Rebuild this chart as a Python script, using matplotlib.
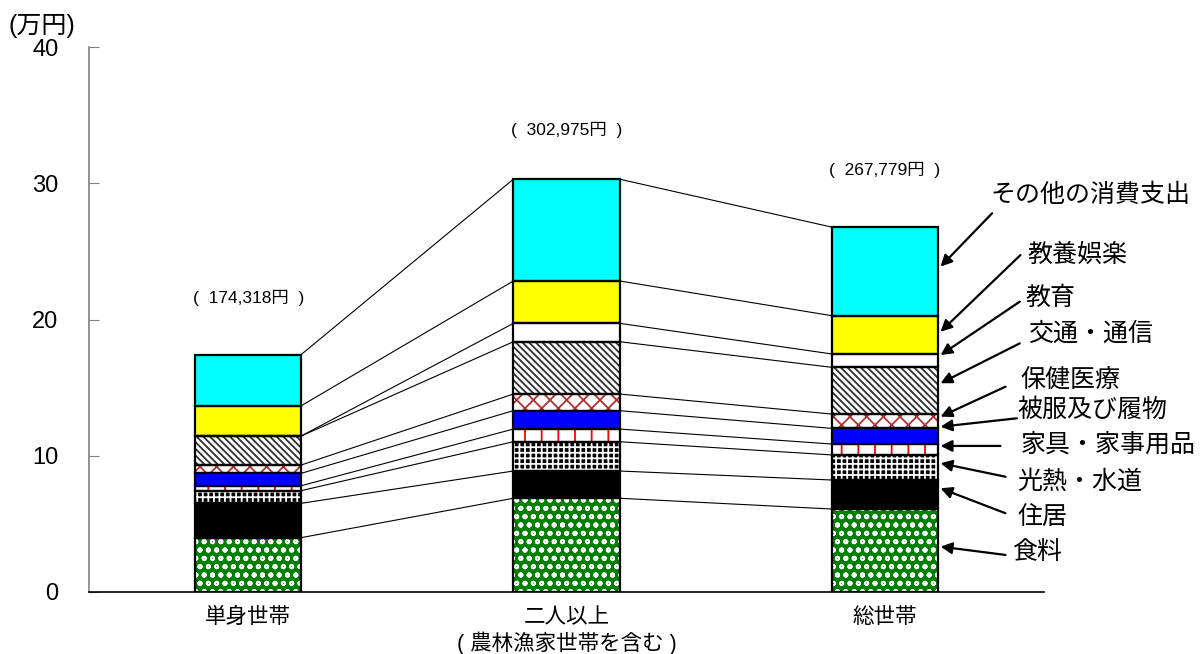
import matplotlib
matplotlib.use('Agg')
import matplotlib.pyplot as plt
import numpy as np

plt.rcParams['font.family'] = ['Liberation Sans', 'Noto Sans CJK JP', 'DejaVu Sans']

# ---- data (万円) ----
groups = ['単身世帯', '二人以上\n( 農林漁家世帯を含む )', '総世帯']
totals_yen = [174318, 302975, 267779]
categories = ['食料', '住居', '光熱・水道', '家具・家事用品', '被服及び履物',
              '保健医療', '交通・通信', '教育', '教養娯楽', 'その他の消費支出']
food = [3.99, 6.88, 6.09]
housing = [2.52, 2.00, 2.13]
utilities = [0.93, 2.15, 1.84]
furniture = [0.36, 0.93, 0.80]
clothing = [0.91, 1.35, 1.15]
health = [0.61, 1.22, 1.05]
transport = [2.13, 3.84, 3.43]
education = [0.00, 1.35, 0.98]
culture = [2.22, 3.11, 2.81]
other = [3.76, 7.47, 6.50]
series = [food, housing, utilities, furniture, clothing, health,
          transport, education, culture, other]
yticks = [0, 10, 20, 30, 40]

# ---- styles ----
styles = [
    dict(fc='#008000', hatch='oo', hc='white'),
    dict(fc='black', hatch=None, hc=None),
    dict(fc='black', hatch='+++', hc='white'),
    dict(fc='white', hatch='|', hc='#FF0000'),
    dict(fc='#0000FF', hatch=None, hc=None),
    dict(fc='white', hatch='xx', hc='#B03030'),
    dict(fc='white', hatch='\\\\\\\\\\', hc='#303030'),
    dict(fc='white', hatch=None, hc=None),
    dict(fc='#FFFF00', hatch=None, hc=None),
    dict(fc='#00FFFF', hatch=None, hc=None),
]
plt.rcParams['hatch.linewidth'] = 1.3

fig = plt.figure(figsize=(12.01, 6.54), dpi=100)
ax = fig.add_axes([89 / 1201, 62 / 654, 955 / 1201, 545 / 654])

x = np.arange(len(groups))
width = 1 / 3
bottom = np.zeros(len(groups))
cums = []
for vals, st in zip(series, styles):
    vals = np.array(vals)
    if st['hatch']:
        ax.bar(x, vals, width, bottom=bottom, color=st['fc'], edgecolor=st['hc'],
               hatch=st['hatch'], linewidth=0, zorder=2)
    else:
        ax.bar(x, vals, width, bottom=bottom, color=st['fc'], linewidth=0, zorder=2)
    ax.bar(x, vals, width, bottom=bottom, fill=False, edgecolor='black',
           linewidth=1.6, zorder=3)
    bottom = bottom + vals
    cums.append(bottom.copy())

# connecting lines
for c in cums:
    for i in range(len(groups) - 1):
        ax.plot([x[i] + width / 2, x[i + 1] - width / 2], [c[i], c[i + 1]],
                color='black', lw=0.8, zorder=1)

# total labels
label_offsets = [4.15, 3.6, 4.2]
for i, t in enumerate(totals_yen):
    ax.text(x[i], bottom[i] + label_offsets[i], f'(  {t:,}円  )',
            ha='center', va='center', fontsize=12.5)

# right-side category labels with arrows
arrow_heads = [3.33, 7.61, 9.45, 10.72, 12.13, 12.87, 15.32, 17.39, 19.10, 23.88]
arrow_tails = [(2.379, 2.72), (2.379, 5.78), (2.379, 8.46), (2.363, 10.72),
               (2.415, 12.75), (2.379, 15.07), (2.424, 18.25), (2.424, 21.31),
               (2.426, 24.73), (2.337, 27.80)]
text_pos = [(2.401, 2.96), (2.416, 5.53), (2.416, 8.10), (2.426, 10.79),
            (2.416, 13.36), (2.426, 15.56), (2.451, 18.99), (2.441, 21.56),
            (2.448, 24.73), (2.331, 29.14)]
head_x = 2.175
for cat, hy, tl, tp in zip(categories, arrow_heads, arrow_tails, text_pos):
    ax.annotate('', xy=(head_x, hy), xytext=tl,
                arrowprops=dict(arrowstyle='-|>', color='black', lw=1.6,
                                mutation_scale=17, shrinkA=0, shrinkB=0),
                annotation_clip=False)
    ax.text(tp[0], tp[1], cat, ha='left', va='center', fontsize=18,
            clip_on=False)

ax.set_xlim(-0.5, 2.5)
ax.set_ylim(0, 40)
ax.set_yticks(yticks)
ax.set_yticklabels([str(v) for v in yticks], fontsize=17)
ax.tick_params(axis='y', direction='in', length=7, color='#808080', pad=22)
ax.set_xticks(x)
ax.set_xticklabels(groups, fontsize=15.5, linespacing=1.2)
ax.tick_params(axis='x', length=0, pad=11)
for s in ['top', 'right']:
    ax.spines[s].set_visible(False)
ax.spines['left'].set_color('#808080')
ax.spines['bottom'].set_color('black')
ax.spines['left'].set_linewidth(1.2)
ax.spines['bottom'].set_linewidth(1.2)

fig.text(9 / 1201, 1 - 26 / 654, '(万円)', ha='left', va='center', fontsize=18)

fig.savefig('out.png', dpi=100)
